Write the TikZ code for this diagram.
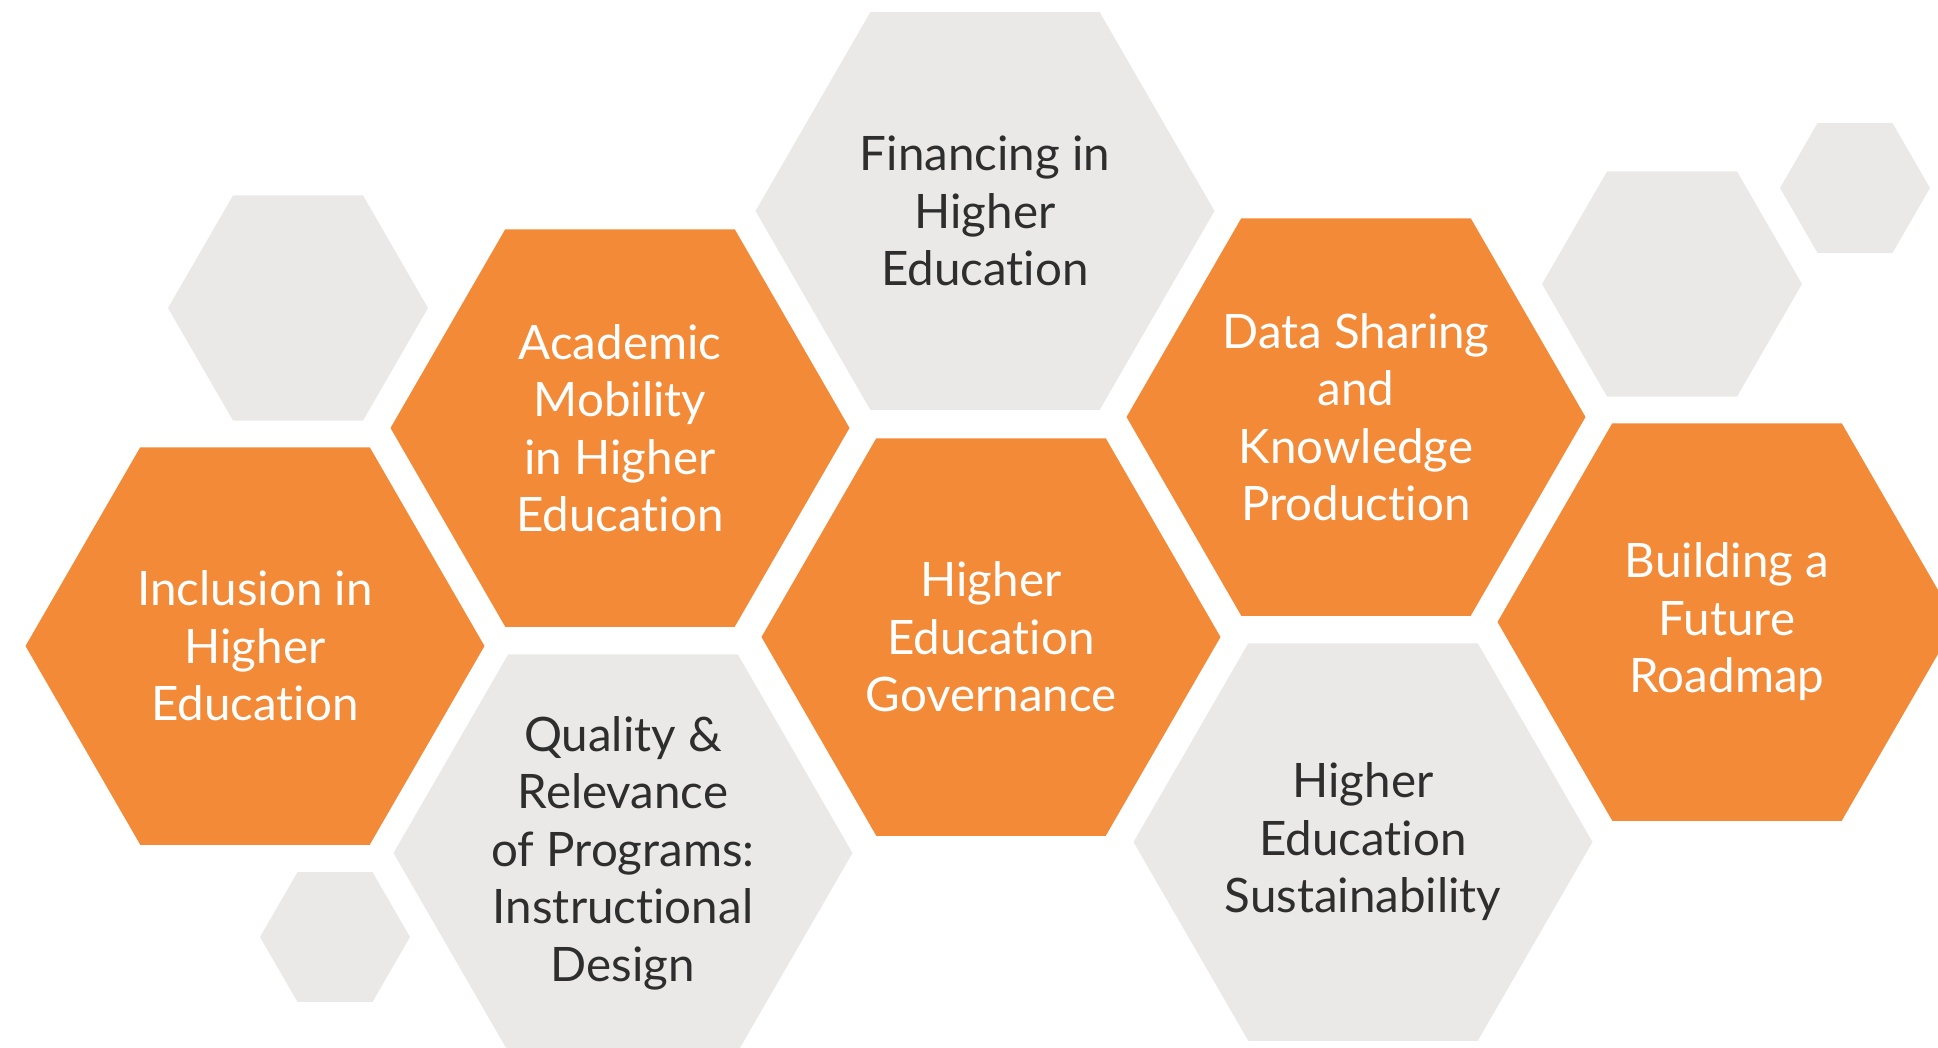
\documentclass[tikz,border=0pt]{standalone}
\usepackage{fontspec}
\setmainfont{Lato}[Ligatures=NoCommon]
\usepackage{tikz}
\usetikzlibrary{shapes.geometric}
\definecolor{hexorange}{HTML}{F38A38}
\definecolor{hexgrey}{HTML}{EAE9E7}
\definecolor{hextext}{HTML}{2E2E2E}

\begin{document}
\begin{tikzpicture}[x=1pt,y=-1pt,
    hex/.style={regular polygon,regular polygon sides=6,inner sep=0pt,outer sep=0pt,
        align=center,font=\fontsize{47.5}{57.5}\selectfont},
    orangehex/.style={hex,fill=hexorange,text=white,minimum size=459pt},
    greyhex/.style={hex,fill=hexgrey,text=hextext,minimum size=459pt}]
    \useasboundingbox (0,0) rectangle (1938,1047);
    \clip (0,0) rectangle (1938,1047);

    % small decoration hexagons
    \node[greyhex,minimum size=260pt] (decoleft) at (298,308) {};
    \node[greyhex,minimum size=150pt] (decolow) at (335,937) {};
    \node[greyhex,minimum size=260pt] (decoright) at (1672,284) {};
    \node[greyhex,minimum size=150pt] (decotop) at (1855,188) {};

    % topic hexagons
    \node[orangehex] (inclusion) at (255,646) {Inclusion in\\Higher\\Education};
    \node[orangehex] (mobility) at (620,428) {Academic\\Mobility\\in Higher\\Education};
    \node[greyhex] (quality) at (623,853) {Quality \&\\Relevance\\of Programs:\\Instructional\\Design};
    \node[greyhex] (financing) at (985,211) {Financing in\\Higher\\Education};
    \node[orangehex] (governance) at (991,637) {Higher\\Education\\Governance};
    \node[orangehex] (datasharing) at (1356,417) {Data Sharing\\and\\Knowledge\\Production};
    \node[greyhex] (sustainability) at (1363,842) {Higher\\Education\\Sustainability};
    \node[orangehex] (roadmap) at (1727,622) {Building a\\Future\\Roadmap};
\end{tikzpicture}
\end{document}
